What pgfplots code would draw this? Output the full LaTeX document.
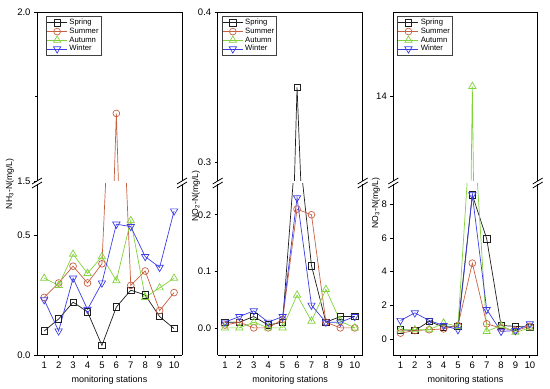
\documentclass[border=0pt]{standalone}
\usepackage{fontspec}
\setmainfont{Liberation Sans}
\usepackage{pgfplots}
\usepackage{pgfplotstable}
\pgfplotsset{compat=1.18}
\definecolor{csp}{RGB}{30,30,30}
\definecolor{csu}{RGB}{200,95,65}
\definecolor{cau}{RGB}{130,210,60}
\definecolor{cwi}{RGB}{60,60,230}

\pgfplotstableread{
st sp su au wi
1 0.10 0.24 0.32 0.23
2 0.15 0.30 0.29 0.10
3 0.22 0.37 0.42 0.32
4 0.18 0.30 0.34 0.19
5 0.04 0.38 0.41 0.30
6 0.20 1.70 0.31 0.545
7 0.27 0.29 0.56 0.535
8 0.25 0.35 0.24 0.41
9 0.16 0.185 0.28 0.365
10 0.11 0.26 0.32 0.60
}\nhtab
\pgfplotstableread{
st sp su au wi
1 0.01 0.005 0.0 0.01
2 0.01 0.01 0.0 0.02
3 0.02 0.0 0.01 0.03
4 0.005 0.0 0.0 0.01
5 0.01 0.015 0.0 0.02
6 0.35 0.21 0.058 0.23
7 0.11 0.20 0.012 0.04
8 0.01 0.01 0.068 0.01
9 0.02 0.0 0.012 0.01
10 0.02 0.0 0.0 0.02
}\notwotab
\pgfplotstableread{
st sp su au wi
1 0.55 0.35 0.55 1.1
2 0.5 0.5 0.55 1.55
3 1.05 0.55 0.55 1.1
4 0.7 0.6 0.95 0.8
5 0.75 0.8 0.75 0.55
6 8.55 4.5 14.12 8.55
7 5.95 0.9 0.45 1.75
8 0.8 0.65 0.8 0.45
9 0.75 0.5 0.4 0.5
10 0.7 0.75 0.65 0.9
}\nothreetab

\pgfplotsset{
  brk/.style={scale only axis, width=145bp, xmin=0.5, xmax=10.55,
    tick align=outside, major tick length=3bp, minor tick length=2bp,
    axis line style={line width=0.9bp},
    every tick/.style={line width=0.7bp, black},
    tick label style={font=\fontsize{9.5bp}{10bp}\selectfont},
    /pgf/number format/assume math mode=true,
    ytick pos=left, clip=true},
  up/.style={brk, height=169bp, axis x line*=top, axis y line*=box, xtick=\empty},
  lo/.style={brk, height=171bp, axis x line*=bottom, axis y line*=box,
    xtick={1,...,10}, xtick pos=bottom},
  dec1/.style={yticklabel style={/pgf/number format/.cd, fixed, fixed zerofill, precision=1}},
  sp/.style={color=csp, line width=0.7bp, mark=square, mark size=3.2bp, mark options={solid, line width=0.7bp}},
  su/.style={color=csu, line width=0.7bp, mark=o, mark size=3.4bp, mark options={solid, line width=0.7bp}},
  au/.style={color=cau, line width=0.7bp, mark=triangle, mark size=4.2bp, mark options={solid, line width=0.7bp}},
  wi/.style={color=cwi, line width=0.7bp, mark=triangle, mark size=4.2bp, mark options={solid, line width=0.7bp, rotate=180}},
  leg/.style={legend style={at={(axis description cs:0,1)}, anchor=north west, xshift=#1, yshift=-4.5bp,
      font=\fontsize{7.7bp}{8bp}\selectfont, inner sep=0.5bp, row sep=-2.2bp,
      draw=black!75, line width=0.6bp, fill=white},
    legend cell align=left,
    legend image code/.code={\draw[mark repeat=2,mark phase=2] plot coordinates {(0bp,0bp)(10bp,0bp)(20bp,0bp)};}},
}
\newcommand\brkmark[1]{%
  \draw[line width=0.8bp] (#1bp-5bp,201bp) -- (#1bp+5bp,207bp);
  \draw[line width=0.8bp] (#1bp-5bp,205bp) -- (#1bp+5bp,211bp);}

\begin{document}
\begin{tikzpicture}
\useasboundingbox (0,0) rectangle (550bp,389bp);
% ---------- Panel 1: NH3-N
\begin{axis}[up, dec1, leg=9bp, at={(37bp,208bp)}, anchor=south west,
  ymin=1.5, ymax=2.0, ytick={1.5,2.0}, minor ytick={1.75}]
\addplot[sp] table[x=st,y=sp]{\nhtab};
\addplot[su] table[x=st,y=su]{\nhtab};
\addplot[au] table[x=st,y=au]{\nhtab};
\addplot[wi] table[x=st,y=wi]{\nhtab};
\legend{Spring,Summer,Autumn,Winter}
\end{axis}
\begin{axis}[lo, dec1, at={(37bp,34bp)}, anchor=south west,
  ymin=0, ymax=0.7125, ytick={0,0.5}]
\addplot[sp] table[x=st,y=sp]{\nhtab};
\addplot[su] table[x=st,y=su]{\nhtab};
\addplot[au] table[x=st,y=au]{\nhtab};
\addplot[wi] table[x=st,y=wi]{\nhtab};
\end{axis}
% ---------- Panel 2: NO2-N
\begin{axis}[up, dec1, leg=4bp, at={(217.7bp,208bp)}, anchor=south west,
  ymin=0.2878, ymax=0.4, ytick={0.3,0.4}]
\addplot[sp] table[x=st,y=sp]{\notwotab};
\addplot[su] table[x=st,y=su]{\notwotab};
\addplot[au] table[x=st,y=au]{\notwotab};
\addplot[wi] table[x=st,y=wi]{\notwotab};
\legend{Spring,Summer,Autumn,Winter}
\end{axis}
\begin{axis}[lo, dec1, at={(217.7bp,34bp)}, anchor=south west,
  ymin=-0.048, ymax=0.2544, ytick={0,0.1,0.2}]
\addplot[sp] table[x=st,y=sp]{\notwotab};
\addplot[su] table[x=st,y=su]{\notwotab};
\addplot[au] table[x=st,y=au]{\notwotab};
\addplot[wi] table[x=st,y=wi]{\notwotab};
\end{axis}
% ---------- Panel 3: NO3-N
\begin{axis}[up, leg=4bp, at={(393.3bp,208bp)}, anchor=south west, width=144.4bp,
  ymin=13, ymax=15, ytick={14}]
\addplot[sp] table[x=st,y=sp]{\nothreetab};
\addplot[su] table[x=st,y=su]{\nothreetab};
\addplot[au] table[x=st,y=au]{\nothreetab};
\addplot[wi] table[x=st,y=wi]{\nothreetab};
\legend{Spring,Summer,Autumn,Winter}
\end{axis}
\begin{axis}[lo, at={(393.3bp,34bp)}, anchor=south west, width=144.4bp,
  ymin=-0.95, ymax=9.2, ytick={0,2,4,6,8}]
\addplot[sp] table[x=st,y=sp]{\nothreetab};
\addplot[su] table[x=st,y=su]{\nothreetab};
\addplot[au] table[x=st,y=au]{\nothreetab};
\addplot[wi] table[x=st,y=wi]{\nothreetab};
\end{axis}
% ---------- break marks
\brkmark{37}\brkmark{182}
\brkmark{217.7}\brkmark{362.7}
\brkmark{393.3}\brkmark{537.7}
% ---------- axis labels
\begin{scope}[every node/.style={font=\fontsize{8.6bp}{9bp}\selectfont}]
\node[rotate=90] at (10bp,205bp) {NH\textsubscript{3}-N(mg/L)};
\node[rotate=90] at (196bp,193bp) {NO\textsubscript{2}-N(mg/L)};
\node[rotate=90] at (376bp,186bp) {NO\textsubscript{3}-N(mg/L)};
\end{scope}
\begin{scope}[every node/.style={font=\fontsize{9bp}{10bp}\selectfont}]
\node at (109.5bp,9bp) {monitoring stations};
\node at (290.2bp,9bp) {monitoring stations};
\node at (465.5bp,9bp) {monitoring stations};
\end{scope}
\end{tikzpicture}
\end{document}
